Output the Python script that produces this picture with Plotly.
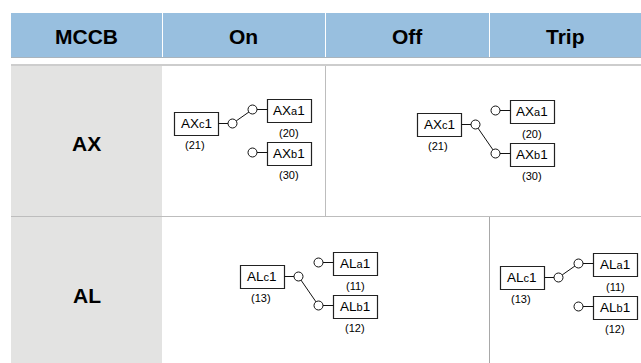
import plotly.graph_objects as go

columns = ["MCCB", "On", "Off", "Trip"]
rows = ["AX", "AL"]
states = {"AX": ["On", "Off"], "AL": ["Off", "Trip"]}
contacts = {"AX": ["c", "a", "b"], "AL": ["c", "a", "b"]}
numbers = {"AX": ["(21)", "(20)", "(30)"], "AL": ["(13)", "(11)", "(12)"]}

W, H = 641, 363
BLUE = "#98bfdf"
GREY = "#e3e3e2"
RULE = "#bdbdbd"
INK = "#111111"
FONT = "Liberation Sans"

HEADER_X = [86.5, 243.5, 407, 565]
HEADER_SEP = [162.5, 325.5, 489.5]
ORIGINS = {("AX", "On"): (174.5, 112.5), ("AX", "Off"): (417.5, 113.5),
           ("AL", "Off"): (240.5, 265.5), ("AL", "Trip"): (500.5, 266.5)}

shapes, annos = [], []
def rect(x0, y0, x1, y1, fill, line=None, w=1):
    shapes.append(dict(type="rect", x0=x0, y0=y0, x1=x1, y1=y1, fillcolor=fill, layer="below",
                       line=dict(color=line or fill, width=w if line else 0)))
def hline(x0, y0, x1, y1, color, w=1):
    shapes.append(dict(type="line", x0=x0, y0=y0, x1=x1, y1=y1, layer="below", line=dict(color=color, width=w)))
def text(x, y, s, size, bold=False):
    annos.append(dict(x=x, y=y, text=f"<b>{s}</b>" if bold else s, showarrow=False, xanchor="center", yanchor="middle",
                      font=dict(size=size, color="#000000", family=FONT)))

# header and table frame
rect(11, 13, W, 57, BLUE)
for x in HEADER_SEP:
    hline(x, 13, x, 57, "#ffffff", 1)
hline(11, 57.5, W, 57.5, "#a9b4bd", 1)
hline(11, 65, W, 65, RULE, 1.5)
rect(11, 66, 162, 216, GREY)
rect(11, 217, 162, H, GREY)
hline(11, 216.5, W, 216.5, RULE, 1)
hline(325.5, 66, 325.5, 216, RULE, 1)
hline(489.5, 217, 489.5, H, "#a8a8a8", 1)
for x, c in zip(HEADER_X, columns):
    text(x, 36, c, 21, True)
text(86.5, 143, rows[0], 21, True)
text(86.5, 295.5, rows[1], 21, True)

circ_x, circ_y = [], []
def diagram(row, state):
    ox, oy = ORIGINS[(row, state)]
    c, a, b = contacts[row]
    nc, na, nb = numbers[row]
    rect(ox, oy, ox + 44, oy + 23, "#ffffff", "#222222", 1.2)
    rect(ox + 93, oy - 13, ox + 137, oy + 10, "#ffffff", "#222222", 1.2)
    rect(ox + 93, oy + 30, ox + 137, oy + 53, "#ffffff", "#222222", 1.2)
    text(ox + 21.5, oy + 11, f'{row}<span style="font-size:11px">{c}</span>1', 13.5)
    text(ox + 114.5, oy - 2, f'{row}<span style="font-size:11px">{a}</span>1', 13.5)
    text(ox + 114.5, oy + 41, f'{row}<span style="font-size:11px">{b}</span>1', 13.5)
    text(ox + 20.5, oy + 32, nc, 11)
    text(ox + 114.5, oy + 20, na, 11)
    text(ox + 114.5, oy + 62.5, nb, 11)
    cc, ca, cb = (ox + 58, oy + 11), (ox + 78, oy - 3), (ox + 78, oy + 40)
    hline(ox + 44, cc[1], cc[0], cc[1], INK)
    hline(ca[0], ca[1], ox + 93, ca[1], INK)
    hline(cb[0], cb[1], ox + 93, cb[1], INK)
    target = ca if state in ("On", "Trip") else cb
    hline(cc[0], cc[1], target[0], target[1], INK)
    for p in (cc, ca, cb):
        circ_x.append(p[0]); circ_y.append(p[1])

for r in rows:
    for s in states[r]:
        diagram(r, s)

fig = go.Figure(go.Scatter(x=circ_x, y=circ_y, mode="markers", hoverinfo="skip",
                           marker=dict(size=9, color="#ffffff", line=dict(color=INK, width=1))))
fig.update_layout(width=W, height=H, margin=dict(l=0, r=0, t=0, b=0), paper_bgcolor="#ffffff", plot_bgcolor="#ffffff",
                  showlegend=False, shapes=shapes, annotations=annos,
                  xaxis=dict(range=[0, W], visible=False, fixedrange=True),
                  yaxis=dict(range=[H, 0], visible=False, fixedrange=True))
fig.write_html("out.html", config=dict(displayModeBar=False),
               post_script="document.body.style.margin='0';document.body.style.overflow='hidden';")
